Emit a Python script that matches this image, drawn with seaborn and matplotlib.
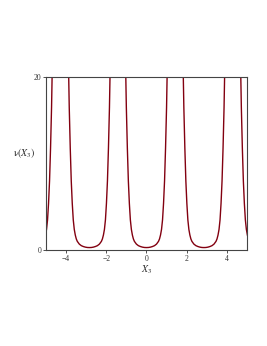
import numpy as np
import pandas as pd
import matplotlib
matplotlib.use("Agg")
import matplotlib.pyplot as plt
import seaborn as sns

# Profile of one well (offset from well centre -> nu value)
well_offsets = [0.0, 0.1, 0.2, 0.3, 0.4, 0.5, 0.6, 0.65, 0.7, 0.75, 0.8, 0.85,
                0.9, 0.95, 1.0, 1.05, 1.1]
well_values = [0.30, 0.31, 0.35, 0.42, 0.52, 0.70, 1.02, 1.30, 1.75, 2.4, 3.5, 5.4,
               8.0, 11.8, 16.5, 23.0, 33.0]
# Centres of the wells along X3
well_centers = [-5.72, -2.84, 0.0, 2.86, 5.72]
x_ticks = [-4, -2, 0, 2, 4]
y_ticks = [0, 20]

sns.set_theme(style="ticks")
plt.rcParams['font.family'] = ['Liberation Serif', 'DejaVu Serif']
plt.rcParams['mathtext.fontset'] = 'stix'

fig = plt.figure(figsize=(2.67, 3.46), dpi=100)
ax = fig.add_axes([0.172, 0.277, 0.753, 0.5])

off = np.array(well_offsets)
val = np.array(well_values)
full_off = np.concatenate([-off[::-1], off[1:]])
full_val = np.concatenate([val[::-1], val[1:]])

rows = []
for i, c in enumerate(well_centers):
    for o, v in zip(full_off, full_val):
        rows.append({"x": c + o, "y": v, "well": i})
df = pd.DataFrame(rows)

for i in range(len(well_centers)):
    d = df[df.well == i]
    sns.lineplot(data=d, x="x", y="y", ax=ax, color="#820010", linewidth=1.0,
                 sort=False, estimator=None)

ax.set_xlim(-5, 5)
ax.set_ylim(0, 20)
ax.set_xticks(x_ticks)
ax.set_yticks(y_ticks)
ax.tick_params(labelsize=5.5, length=2, width=0.6, pad=1.5, colors="#333333")
for s in ax.spines.values():
    s.set_color("#444444")
    s.set_linewidth(0.8)
ax.set_xlabel(r"$X_3$", fontsize=7, labelpad=0)
ax.set_ylabel(r"$\mathrm{\nu}(X_3)$", fontsize=7, rotation=0, labelpad=2)
ax.yaxis.set_label_coords(-0.11, 0.52)

fig.savefig("out.png", dpi=100)
